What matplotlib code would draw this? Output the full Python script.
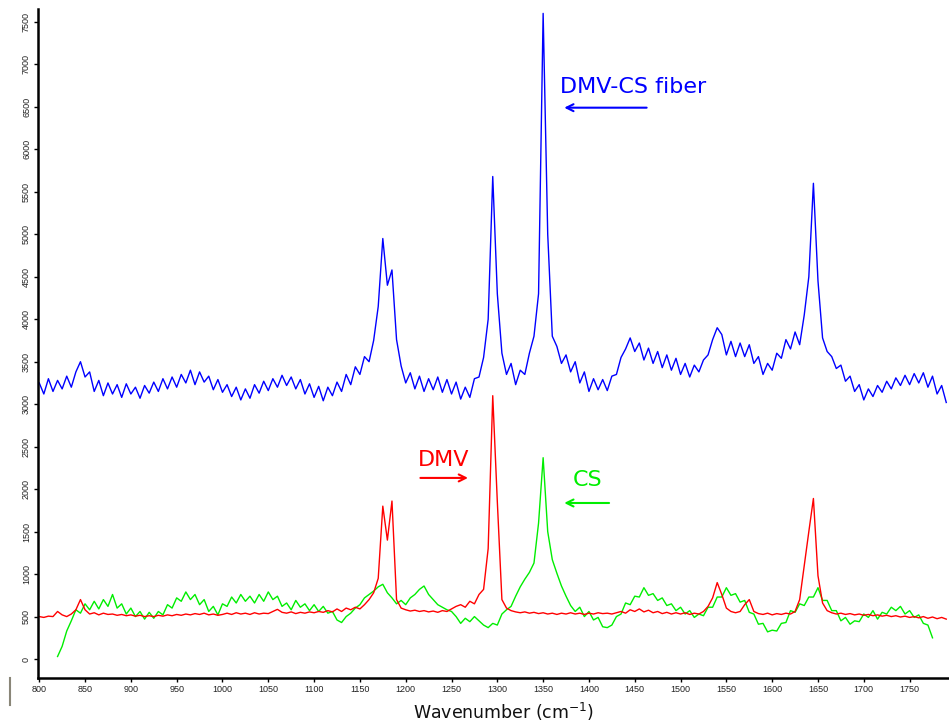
import numpy as np
import matplotlib
matplotlib.use('Agg')
import matplotlib.pyplot as plt
from matplotlib.lines import Line2D

# Raman spectra, 5 cm-1 steps
wavenumber = np.arange(800, 1795, 5)

dmv_cs_fiber = [
    3250, 3120, 3300, 3150, 3280, 3180, 3330, 3200, 3380, 3500,
    3320, 3380, 3150, 3280, 3100, 3250, 3120, 3230, 3080, 3240,
    3120, 3200, 3070, 3220, 3130, 3260, 3150, 3300, 3180, 3320,
    3200, 3350, 3250, 3400, 3230, 3380, 3260, 3330, 3170, 3290,
    3140, 3230, 3090, 3200, 3050, 3180, 3070, 3230, 3130, 3270,
    3160, 3300, 3200, 3340, 3220, 3320, 3180, 3290, 3120, 3240,
    3080, 3210, 3040, 3200, 3100, 3260, 3150, 3350, 3230, 3440,
    3350, 3560, 3500, 3750, 4150, 4950, 4400, 4580, 3760, 3450,
    3250, 3370, 3180, 3330, 3150, 3300, 3170, 3320, 3140, 3290,
    3120, 3260, 3060, 3200, 3080, 3300, 3320, 3550, 4000, 5680,
    4300, 3600, 3350, 3480, 3230, 3400, 3350, 3600, 3800, 4300,
    7600, 5000, 3800, 3680, 3480, 3580, 3380, 3500, 3250, 3380,
    3150, 3300, 3170, 3290, 3160, 3330, 3350, 3550, 3650, 3780,
    3620, 3720, 3520, 3660, 3480, 3620, 3430, 3580, 3400, 3540,
    3350, 3480, 3320, 3460, 3380, 3520, 3580, 3760, 3900, 3820,
    3580, 3740, 3560, 3720, 3560, 3700, 3480, 3560, 3350, 3480,
    3400, 3600, 3540, 3760, 3650, 3850, 3700, 4050, 4500, 5600,
    4450, 3780, 3620, 3560, 3420, 3460, 3270, 3330, 3150, 3230,
    3050, 3180, 3090, 3220, 3140, 3270, 3180, 3310, 3220, 3340,
    3230, 3360, 3250, 3370, 3200, 3330, 3120, 3220, 3020,
]

dmv = [
    500, 490, 505, 500, 560, 520, 500, 530, 580, 700,
    580, 530, 545, 520, 540, 525, 530, 515, 525, 510,
    520, 505, 515, 500, 510, 500, 515, 505, 520, 510,
    525, 515, 530, 520, 535, 525, 540, 520, 530, 515,
    525, 540, 525, 545, 530, 540, 525, 545, 530, 540,
    535, 560, 585, 550, 540, 555, 535, 550, 540, 555,
    545, 560, 550, 570, 555, 590, 560, 600, 580, 610,
    590, 640, 700, 780, 950, 1800, 1400, 1860, 700, 600,
    580, 565, 575, 560, 570, 555, 565, 550, 570, 560,
    590, 620, 640, 610, 680, 650, 760, 820, 1300, 3100,
    1850, 700, 600, 570, 555, 545, 555, 540, 550, 535,
    545, 530, 540, 525, 540, 530, 545, 530, 540, 525,
    540, 530, 545, 535, 540, 530, 545, 560, 540, 580,
    560, 590, 555, 575, 545, 560, 535, 550, 530, 545,
    530, 545, 525, 540, 530, 560, 620, 720, 900, 760,
    600, 560, 545, 560, 640, 700, 560, 535, 525, 540,
    520, 535, 525, 540, 530, 560, 700, 1100, 1500, 1890,
    980, 660, 570, 545, 530, 540, 525, 535, 520, 530,
    515, 525, 510, 520, 505, 515, 500, 510, 495, 505,
    490, 500, 485, 500, 480, 495, 475, 490, 470,
]

cs_wavenumber = np.arange(820, 1780, 5)
cs = [
    30, 150, 330, 450, 580, 540, 650, 580, 680, 590,
    700, 620, 760, 600, 650, 530, 600, 500, 560, 470,
    550, 480, 560, 520, 640, 600, 720, 680, 790, 700,
    760, 640, 700, 560, 620, 520, 650, 620, 730, 660,
    760, 680, 740, 660, 760, 680, 790, 700, 740, 620,
    660, 580, 690, 610, 650, 570, 640, 560, 620, 540,
    560, 460, 430, 500, 540, 600, 640, 720, 760, 800,
    850, 880, 780, 720, 650, 690, 640, 720, 760, 820,
    860, 760, 700, 640, 610, 580, 560, 500, 420, 480,
    440, 500, 450, 400, 370, 420, 400, 530, 580, 620,
    740, 850, 940, 1020, 1130, 1600, 2370, 1500, 1170, 1010,
    860, 740, 630, 560, 610, 500, 560, 460, 490, 380,
    370, 400, 500, 530, 660, 640, 740, 730, 840, 750,
    770, 690, 720, 630, 650, 570, 610, 530, 570, 490,
    530, 510, 610, 610, 730, 730, 840, 750, 770, 670,
    690, 550, 530, 410, 420, 320, 340, 330, 420, 430,
    570, 550, 650, 630, 730, 730, 840, 690, 690, 570,
    570, 450, 490, 410, 450, 440, 530, 490, 570, 470,
    550, 530, 610, 570, 620, 530, 570, 490, 520, 420,
    400, 250,
]

fig = plt.figure(figsize=(9.49, 7.26), dpi=100)
ax = fig.add_axes([0.040, 0.066, 0.96, 0.922])

ax.plot(wavenumber, dmv_cs_fiber, color='#0000ff', lw=1.0)
ax.plot(cs_wavenumber, cs, color='#00ee00', lw=1.0)
ax.plot(wavenumber, dmv, color='#ff0000', lw=1.0)

ax.set_xlim(798.6, 1793)
ax.set_ylim(-224, 7655)
ax.set_xticks(np.arange(800, 1800, 50))
ax.set_yticks(np.arange(0, 8000, 500))

for side in ['top', 'right']:
    ax.spines[side].set_visible(False)
for side in ['left', 'bottom']:
    ax.spines[side].set_linewidth(1.8)

ax.tick_params(direction='out', length=3, width=1, labelsize=6.5,
               labelcolor='#222222', pad=2)
for lab in ax.get_yticklabels():
    lab.set_rotation(90)
    lab.set_va('center')
    lab.set_family('Liberation Sans')
for lab in ax.get_xticklabels():
    lab.set_family('Liberation Sans')

# labels with arrows
arrow = '->,head_length=0.5,head_width=0.25'
ax.text(1368, 6737, 'DMV-CS fiber', color='#0000ff', fontsize=16, va='center')
ax.annotate('', xy=(1370, 6490), xytext=(1466, 6490),
            arrowprops=dict(arrowstyle=arrow, color='#0000ff', lw=1.5))
ax.text(1213, 2344, 'DMV', color='#ff0000', fontsize=16, va='center')
ax.annotate('', xy=(1271, 2132), xytext=(1213, 2132),
            arrowprops=dict(arrowstyle=arrow, color='#ff0000', lw=1.5))
ax.text(1382, 2108, 'CS', color='#00ee00', fontsize=16, va='center')
ax.annotate('', xy=(1370, 1837), xytext=(1425, 1837),
            arrowprops=dict(arrowstyle=arrow, color='#00ee00', lw=1.5))

fig.text(504 / 949, 1 - 712 / 726, 'Wavenumber (cm$^{-1}$)', fontsize=12.5,
         ha='center', va='center', color='#111111')
fig.add_artist(Line2D([0.0105, 0.0105], [0.029, 0.066], color='#8a8678', lw=1.5))

fig.savefig('out.png', dpi=100)
